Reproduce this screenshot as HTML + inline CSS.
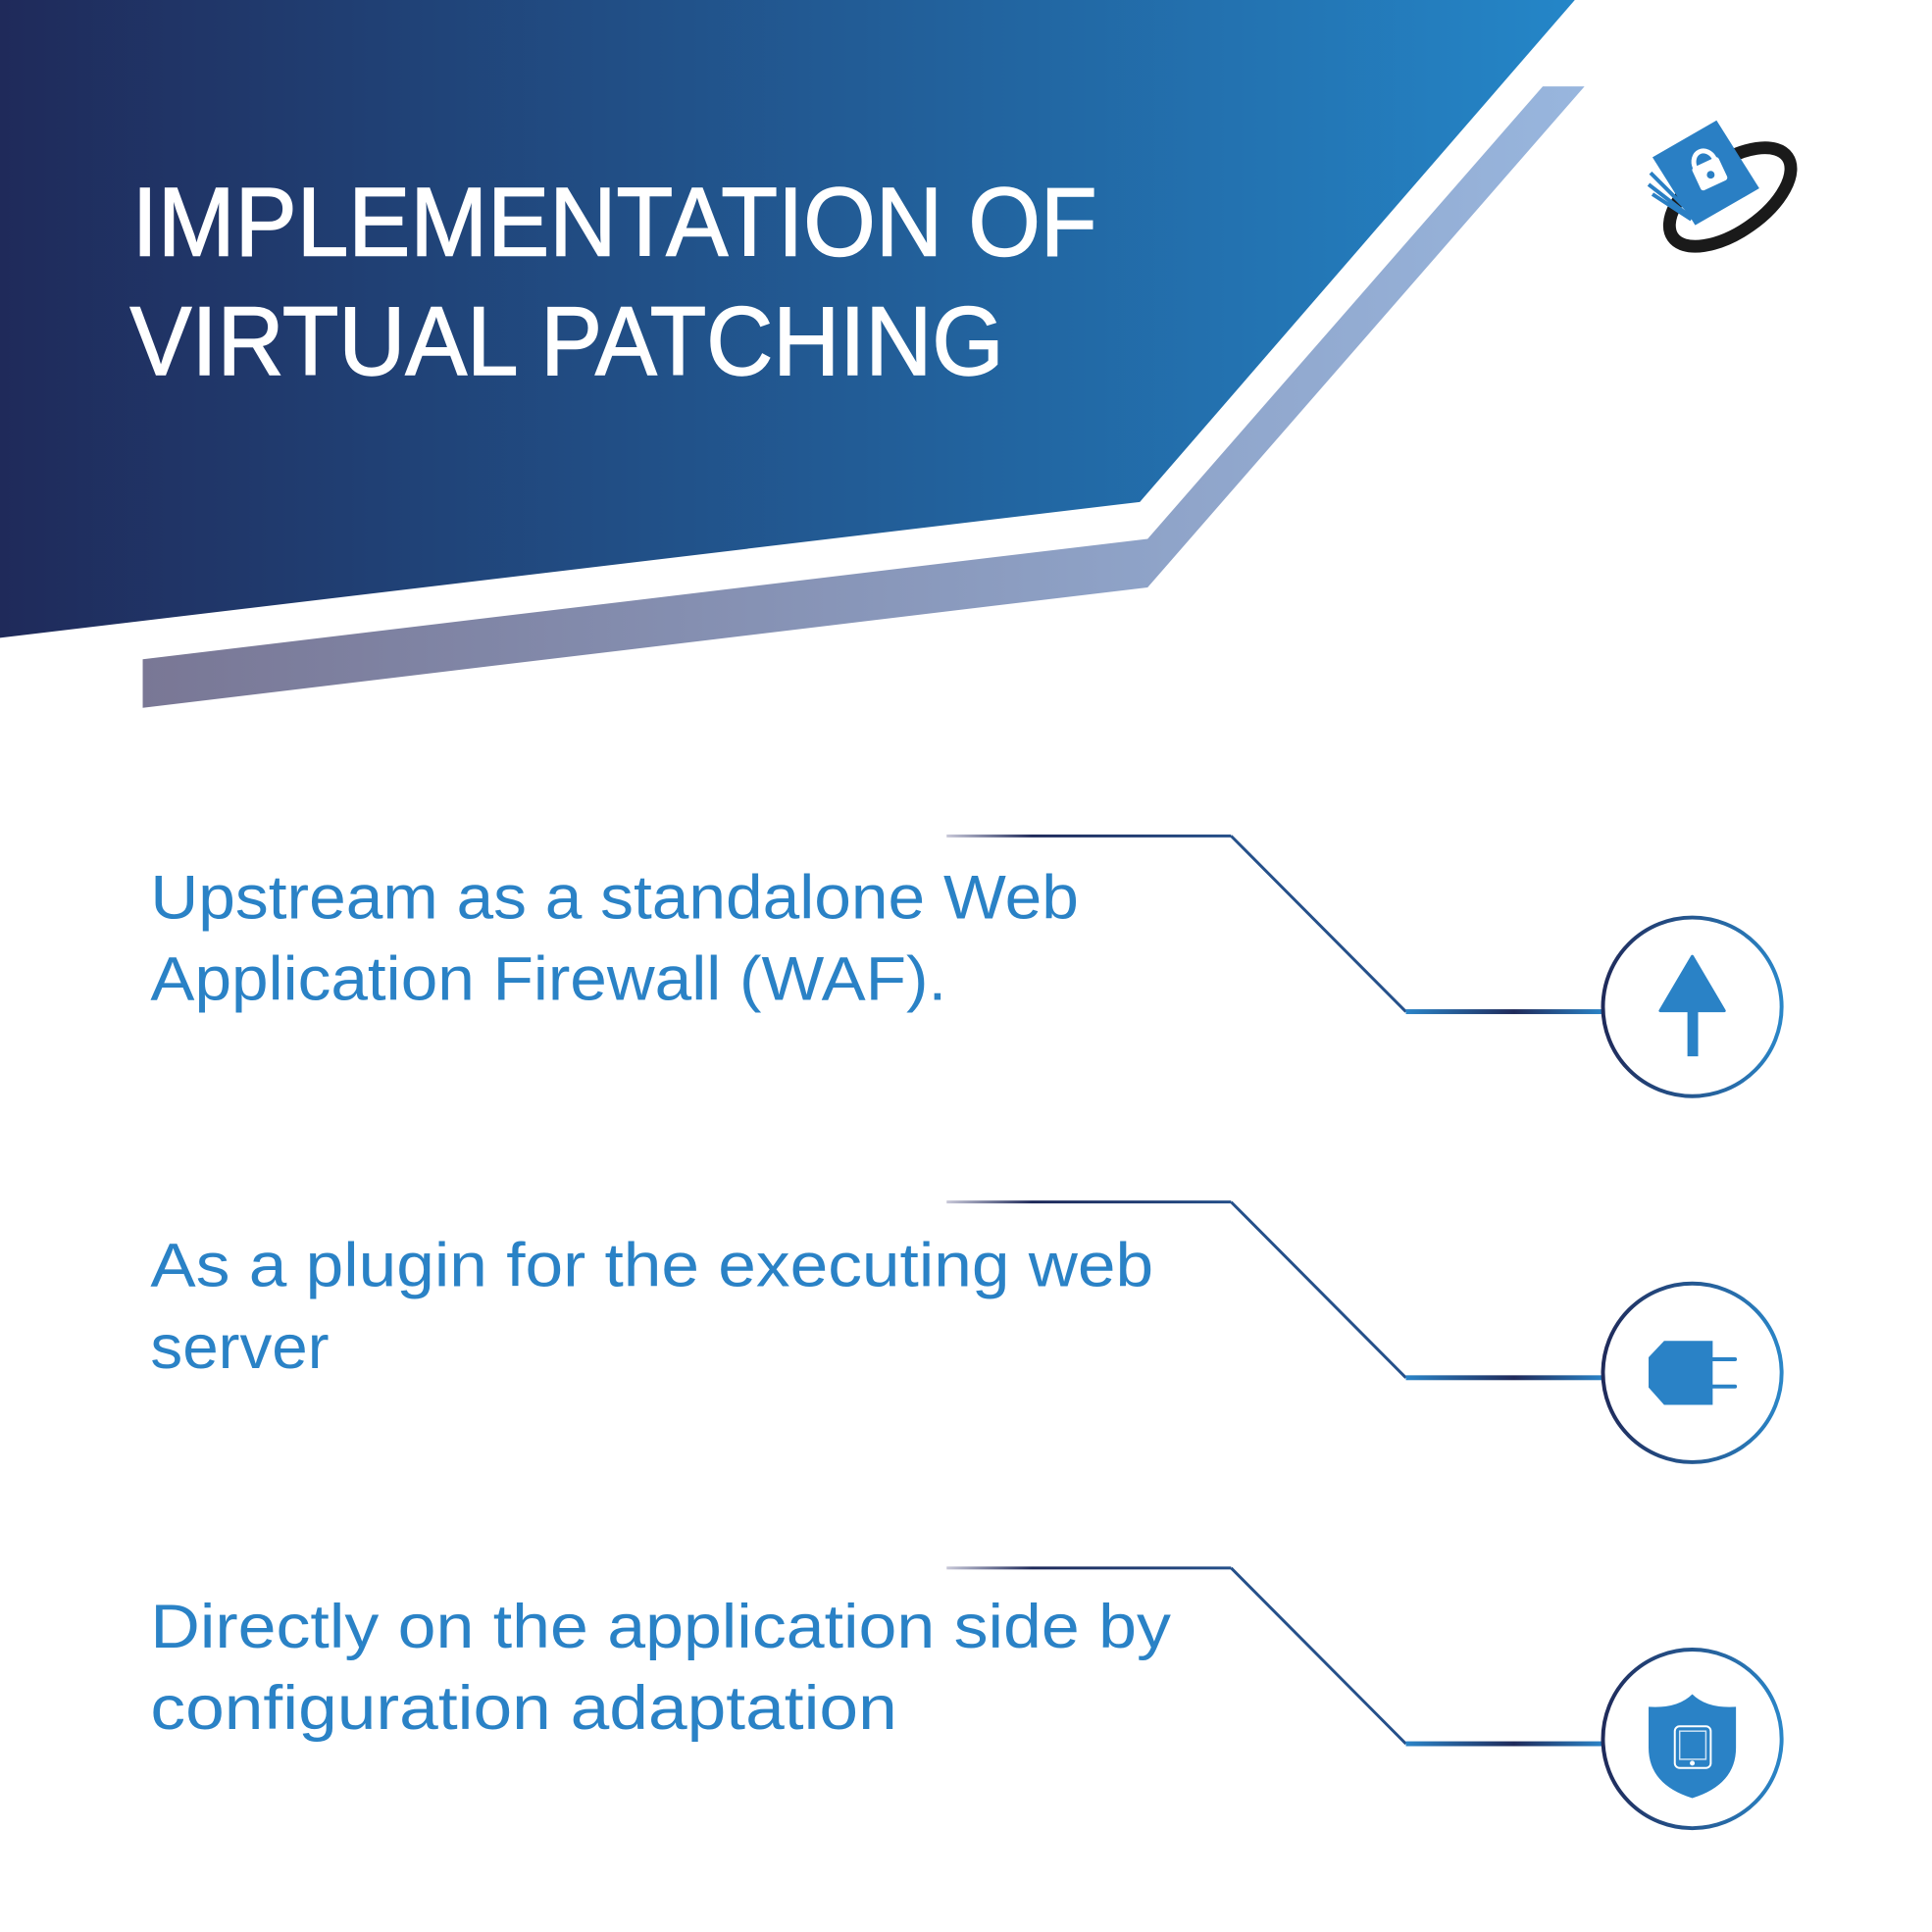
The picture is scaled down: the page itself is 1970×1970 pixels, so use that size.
<!DOCTYPE html>
<html><head><meta charset="utf-8"><style>html,body{margin:0;padding:0;background:#fff}svg{display:block}</style></head>
<body>
<svg width="1970" height="1970" viewBox="0 0 1970 1970" xmlns="http://www.w3.org/2000/svg">
<defs>
<linearGradient id="ban" x1="0" y1="0" x2="1" y2="0"><stop offset="0" stop-color="#1f2a5a"/><stop offset="1" stop-color="#2486c8"/></linearGradient>
<linearGradient id="str" x1="0" y1="0" x2="1" y2="0"><stop offset="0" stop-color="#797795"/><stop offset="1" stop-color="#98b6de"/></linearGradient>
<linearGradient id="hl" gradientUnits="userSpaceOnUse" x1="1448" y1="0" x2="1651" y2="0"><stop offset="0" stop-color="#2a84c8"/><stop offset="0.55" stop-color="#1f2a5a"/><stop offset="1" stop-color="#2a84c8"/></linearGradient>
<linearGradient id="tl" gradientUnits="userSpaceOnUse" x1="975" y1="0" x2="1268" y2="0"><stop offset="0" stop-color="#c8c8d8"/><stop offset="0.3" stop-color="#1f2a5a"/><stop offset="1" stop-color="#25508a"/></linearGradient>
<linearGradient id="cir" x1="0" y1="0" x2="1" y2="0"><stop offset="0" stop-color="#1f2a5a"/><stop offset="1" stop-color="#2a86c8"/></linearGradient>
</defs>
<g transform="scale(0.99)">
<polygon points="0,0 1622,0 1174,517 0,657" fill="url(#ban)"/>
<polygon points="1589,89 1632,89 1182,605 147,729 147,679 1182,555" fill="url(#str)"/>
<g font-family="Liberation Sans, sans-serif" fill="#fff" stroke="#fff" stroke-width="1.5" font-size="100">
<text x="136" y="263" textLength="994" lengthAdjust="spacingAndGlyphs">IMPLEMENTATION OF</text>
<text x="134" y="386" textLength="900" lengthAdjust="spacingAndGlyphs">VIRTUAL PATCHING</text>
</g>
<!-- logo -->
<g>
<ellipse cx="1782" cy="203" rx="72" ry="36" transform="rotate(-35 1782 203)" fill="none" stroke="#1a1a1a" stroke-width="13"/>
<polygon points="1702,162 1768,124 1812,194 1746,232" fill="#2a7fc4"/>
<path d="M1700,178 l40,40 M1698,190 l44,34 M1702,200 l40,26" stroke="#2a7fc4" stroke-width="4"/>
<rect x="1746" y="166" width="30" height="26" rx="3" fill="#fff" transform="rotate(-25 1761 179)"/>
<path d="M1750,167 a11,13 0 0 1 22,0" fill="none" stroke="#fff" stroke-width="5" transform="rotate(-25 1761 179)"/>
<circle cx="1762" cy="180" r="4" fill="#2a7fc4"/>
</g>
<g font-family="Liberation Sans, sans-serif" fill="#2a82c6" font-size="64">
<text x="155" y="946" textLength="956" lengthAdjust="spacingAndGlyphs">Upstream as a standalone Web</text>
<text x="155" y="1030" textLength="820" lengthAdjust="spacingAndGlyphs">Application Firewall (WAF).</text>
<text x="155" y="1325" textLength="1033" lengthAdjust="spacingAndGlyphs">As a plugin for the executing web</text>
<text x="155" y="1409" textLength="184" lengthAdjust="spacingAndGlyphs">server</text>
<text x="155" y="1697" textLength="1051" lengthAdjust="spacingAndGlyphs">Directly on the application side by</text>
<text x="155" y="1781" textLength="769" lengthAdjust="spacingAndGlyphs">configuration adaptation</text>
</g>
<g id="c1">
<rect x="975" y="859.5" width="293" height="3" fill="url(#tl)"/>
<line x1="1268" y1="861" x2="1448" y2="1042" stroke="#25508a" stroke-width="3"/>
<rect x="1448" y="1039.5" width="203" height="5" fill="url(#hl)"/>
<circle cx="1743" cy="1037" r="92" fill="#fff" stroke="url(#cir)" stroke-width="4"/>
</g>
<use href="#c1" y="377"/>
<use href="#c1" y="754"/>
<polygon points="1743,985 1710,1041 1776,1041" fill="#2a82c6" stroke="#2a82c6" stroke-width="3" stroke-linejoin="round"/>
<rect x="1738" y="1038" width="11" height="50" fill="#2a82c6"/>
<polygon points="1714,1381 1764,1381 1764,1447 1714,1447 1698,1429 1698,1398" fill="#2a82c6"/>
<path d="M1764,1400 H1787 M1764,1428 H1787" stroke="#2a82c6" stroke-width="4" stroke-linecap="round"/>
<path d="M1698,1758 Q1728,1760 1743,1745 Q1758,1760 1788,1758 V1800 Q1788,1838 1743,1852 Q1698,1838 1698,1800 Z" fill="#2a82c6"/>
<rect x="1725" y="1778" width="37" height="43" rx="5" fill="none" stroke="#fff" stroke-width="2"/>
<rect x="1730" y="1783" width="27" height="29" fill="none" stroke="#cfe3f5" stroke-width="1.5"/>
<circle cx="1743" cy="1816" r="2.5" fill="#fff"/>
</g>
</svg>
</body></html>
